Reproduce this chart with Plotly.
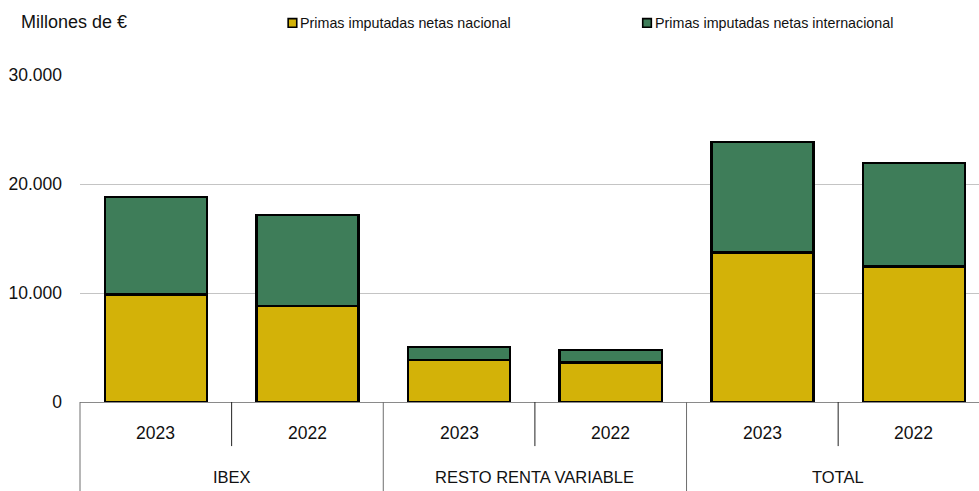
import plotly.graph_objects as go

# ---------------- data ----------------
groups = ["IBEX", "RESTO RENTA VARIABLE", "TOTAL"]
years = ["2023", "2022", "2023", "2022", "2023", "2022"]
series_names = ["Primas imputadas netas nacional", "Primas imputadas netas internacional"]
nacional = [9860, 8800, 3860, 3640, 13720, 12440]
internacional = [8970, 8330, 1190, 1140, 10160, 9470]
y_ticks = [0, 10000, 20000, 30000]

colors = ["#D3B208", "#3E7D59"]

# ---------------- geometry ----------------
W_FIG, H_FIG = 979, 491
M_L, M_R, M_T, M_B = 80.2, 0, 74.7, 88.5
PW = W_FIG - M_L - M_R
PH = H_FIG - M_T - M_B
SLOT = 151.6
XMIN = -0.5
XMAX = XMIN + PW / SLOT


def px_x(px):
    return (px - M_L) / PW


def px_y(py):
    return (H_FIG - M_B - py) / PH


def ix_paper(i):
    return (i - XMIN) / (XMAX - XMIN)


FONT = "Liberation Sans, Arial, sans-serif"
xs = list(range(len(years)))

fig = go.Figure()
fig.add_trace(go.Bar(x=xs, y=nacional, name=series_names[0], width=0.673,
                     marker=dict(color=colors[0], line=dict(color="black", width=2.4)),
                     showlegend=False))
fig.add_trace(go.Bar(x=xs, y=internacional, name=series_names[1], width=0.673,
                     marker=dict(color=colors[1], line=dict(color="black", width=2.4)),
                     showlegend=False))

shapes = []
annotations = []

# inner ticks between years and group dividers
n_per_group = len(years) // len(groups)
for g in range(len(groups)):
    left = g * n_per_group - 0.5
    shapes.append(dict(type="line", xref="paper", yref="paper",
                       x0=ix_paper(left), x1=ix_paper(left), y0=0, y1=px_y(H_FIG + 2),
                       line=dict(color="#6e6e6e", width=1)))
    for k in range(1, n_per_group):
        b = left + k
        shapes.append(dict(type="line", xref="paper", yref="paper",
                           x0=ix_paper(b), x1=ix_paper(b), y0=0, y1=px_y(446.7),
                           line=dict(color="#222222", width=1)))
    center = left + n_per_group / 2
    annotations.append(dict(text=groups[g], xref="paper", yref="paper",
                            x=ix_paper(center), y=px_y(478), xanchor="center", yanchor="middle",
                            showarrow=False, font=dict(family=FONT, size=16.5, color="#111111")))

# year labels
for i, yr in enumerate(years):
    annotations.append(dict(text=yr, xref="paper", yref="paper",
                            x=ix_paper(i), y=px_y(433.5), xanchor="center", yanchor="middle",
                            showarrow=False, font=dict(family=FONT, size=17.5, color="#111111")))

# unit label
annotations.append(dict(text="Millones de €", xref="paper", yref="paper",
                        x=px_x(19), y=px_y(21.5), xanchor="left", yanchor="middle",
                        showarrow=False, font=dict(family=FONT, size=18, color="#111111")))

# custom legend
legend_sq = [(288.3, 296.9), (642.8, 651.4)]
for (x0, x1), name, col in zip(legend_sq, series_names, colors):
    shapes.append(dict(type="rect", xref="paper", yref="paper",
                       x0=px_x(x0), x1=px_x(x1), y0=px_y(26.8), y1=px_y(18.2),
                       fillcolor=col, line=dict(color="black", width=1.6)))
    annotations.append(dict(text=name, xref="paper", yref="paper",
                            x=px_x(x1 + 1.5), y=px_y(22.3), xanchor="left", yanchor="middle",
                            showarrow=False, font=dict(family=FONT, size=14.3, color="#111111")))

fig.update_layout(
    width=W_FIG, height=H_FIG,
    margin=dict(l=M_L, r=M_R, t=M_T, b=M_B, pad=0),
    barmode="stack",
    plot_bgcolor="white", paper_bgcolor="white",
    separators=",.",
    shapes=shapes,
    annotations=annotations,
    showlegend=False,
    xaxis=dict(range=[XMIN, XMAX], showticklabels=False, showgrid=False,
               zeroline=False, showline=False, ticks=""),
    yaxis=dict(range=[0, 30000], tickvals=y_ticks, tickformat=",d",
               showgrid=True, gridcolor="#c4c4c4", gridwidth=1,
               zeroline=True, zerolinecolor="#8a8a8a", zerolinewidth=1.2,
               showline=False, ticks="", ticklabelstandoff=17,
               tickfont=dict(family=FONT, size=17.5, color="#111111")),
)

fig.write_html(
    "out.html",
    config={"displayModeBar": False},
    post_script="document.body.style.margin='0px';document.body.style.overflow='hidden';",
)
